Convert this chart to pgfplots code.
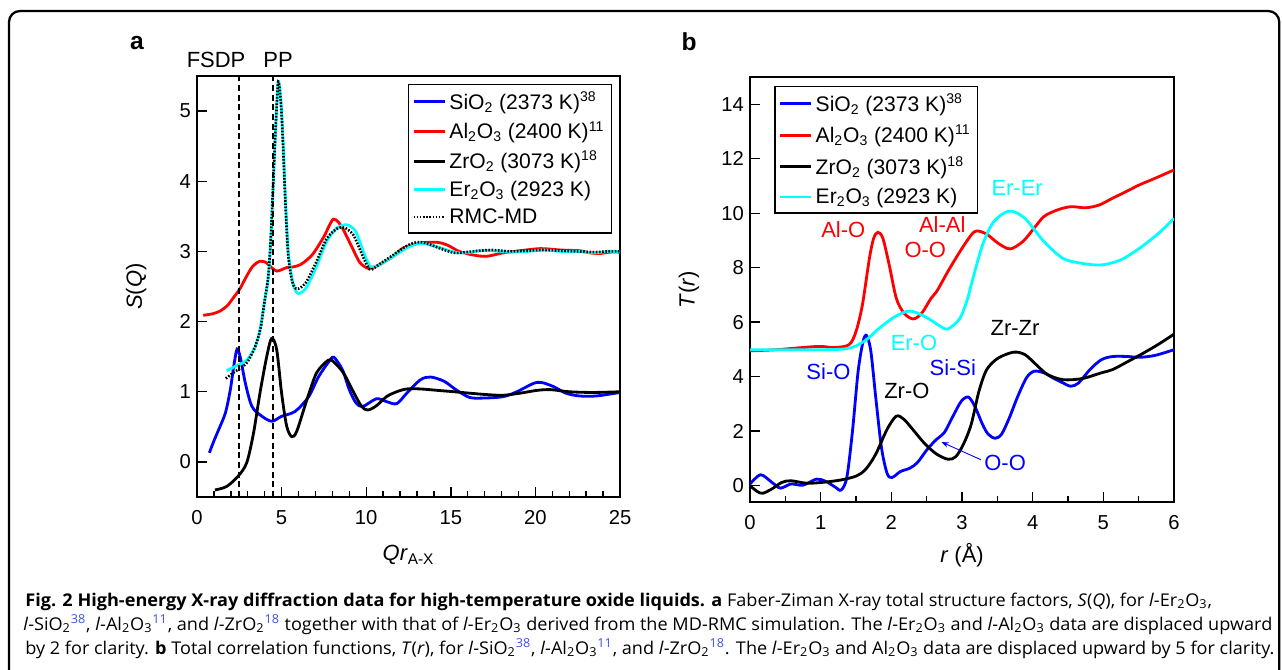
\documentclass[border=0pt]{standalone}
\usepackage{fontspec}
\setmainfont{Liberation Sans}
\newfontfamily\capfont{Open Sans}[FakeStretch=1.03]
\usepackage{pgfplots}
\pgfplotsset{compat=1.18}
\usetikzlibrary{arrows.meta}

\definecolor{pblue}{RGB}{0,0,255}
\definecolor{pred}{RGB}{255,0,0}
\definecolor{pcyan}{RGB}{0,255,255}
\definecolor{refblue}{RGB}{60,80,230}

\newcommand{\lsub}[1]{\textsubscript{#1}}
\newcommand{\lsup}[1]{\textsuperscript{#1}}
\newcommand{\rf}[1]{\textsuperscript{\color{refblue}#1}}

\pgfplotsset{
  panel/.style={
    scale only axis,
    axis line style={line width=0.8pt},
    tick align=inside,
    tick pos=left,
    major tick length=0.2cm,
    minor tick length=0.12cm,
    every tick/.style={black, line width=0.8pt},
    tick label style={font=\fontsize{11.5}{13}\selectfont},
    xticklabel style={yshift=-0.14cm},
    /pgf/number format/assume math mode=true,
    label style={font=\fontsize{12.5}{14}\selectfont},
    legend style={draw=black, line width=0.8pt, font=\fontsize{12}{14}\selectfont,
      cells={anchor=west}, inner sep=2pt, row sep=1.5pt},
    legend image code/.code={\draw[##1] (0cm,0cm) -- (0.62cm,0cm);},
    every axis plot/.append style={line width=1.6pt, smooth},
  }
}

\begin{document}
\begin{tikzpicture}
\path[use as bounding box] (0,0) rectangle (25.64cm,-13.4cm);

% ---- panel a ----
\begin{axis}[panel,
  at={(3.94cm,-9.94cm)}, anchor=south west,
  width=8.46cm, height=8.42cm,
  xmin=0, xmax=25, ymin=-0.5, ymax=5.5,
  xtick={0,5,...,25}, minor xtick={0,1,...,25},
  ytick={0,1,...,5},
  xlabel={\textit{Qr}\textsubscript{A-X}},
  ylabel={\textit{S}(\textit{Q})},
  xlabel style={at={(axis description cs:0.5,-0.138)}, anchor=center},
  ylabel style={at={(axis description cs:-0.144,0.5)}, anchor=center},
  legend style={at={(0.981,0.981)}, anchor=north east},
]
\addplot[pblue] coordinates {
(0.73,0.13)(1.0,0.3)(1.28,0.46)(1.68,0.70)(1.97,1.03)(2.17,1.36)(2.37,1.61)(2.57,1.48)
(2.86,1.12)(3.25,0.79)(3.84,0.65)(4.43,0.58)(5.0,0.65)(5.8,0.72)(6.6,0.93)(7.2,1.22)
(7.86,1.45)(8.1,1.49)(8.6,1.31)(9.0,1.03)(9.4,0.84)(9.8,0.79)(10.6,0.90)(11.2,0.86)
(11.8,0.83)(12.4,0.98)(13.2,1.17)(13.8,1.21)(14.6,1.15)(15.3,1.03)(16.1,0.92)(16.9,0.91)
(18.1,0.93)(18.9,1.00)(19.9,1.12)(20.4,1.13)(21.1,1.07)(21.8,0.98)(22.6,0.94)(23.6,0.94)(25,0.99)};
\addlegendentry{SiO\lsub{2} (2373 K)\lsup{38}}
\addplot[pred] coordinates {
(0.37,2.09)(0.9,2.11)(1.36,2.15)(1.8,2.23)(2.15,2.34)(2.54,2.47)(2.94,2.65)(3.3,2.79)
(3.72,2.86)(4.1,2.84)(4.4,2.77)(4.7,2.72)(5.0,2.74)(5.3,2.77)(5.7,2.78)(6.1,2.81)
(6.5,2.88)(6.9,2.98)(7.5,3.21)(7.8,3.36)(8.06,3.46)(8.35,3.42)(8.65,3.31)(9.24,3.02)
(9.63,2.84)(10.1,2.76)(10.5,2.78)(11.0,2.84)(11.6,2.93)(12.2,3.05)(13.2,3.12)(14.2,3.13)
(14.8,3.09)(15.5,3.0)(16.3,2.95)(17.1,2.93)(18.1,2.98)(19.1,3.01)(20.3,3.04)(21.5,3.02)
(22.6,3.01)(23.2,2.98)(23.8,2.97)(24.4,2.99)(25,2.99)};
\addlegendentry{Al\lsub{2}O\lsub{3} (2400 K)\lsup{11}}
\addplot[black] coordinates {
(1.06,-0.40)(1.75,-0.35)(2.44,-0.2)(2.94,-0.01)(3.34,0.41)(3.72,0.98)(4.12,1.50)(4.41,1.76)
(4.71,1.60)(5.0,0.98)(5.3,0.51)(5.6,0.36)(5.9,0.44)(6.5,0.89)(7.07,1.27)(7.76,1.45)
(8.06,1.43)(8.65,1.27)(9.24,1.0)(9.73,0.79)(10.1,0.74)(10.6,0.80)(11.2,0.93)(11.8,1.0)
(12.4,1.04)(13.2,1.04)(14.2,1.02)(15.2,1.0)(16.1,0.98)(17.1,0.96)(18.1,0.95)(19.1,0.98)
(20.1,1.02)(20.9,1.03)(22.0,1.0)(23.4,0.99)(25,1.0)};
\addlegendentry{ZrO\lsub{2} (3073 K)\lsup{18}}
\addplot[pcyan] coordinates {
(1.75,1.30)(2.25,1.36)(2.94,1.45)(3.43,1.64)(3.72,1.88)(4.0,2.3)(4.2,2.6)(4.35,3.1)
(4.5,3.92)(4.62,4.6)(4.72,5.1)(4.8,5.42)(4.9,5.3)(5.0,5.0)(5.1,4.5)(5.2,3.9)(5.3,3.4)
(5.4,2.98)(5.55,2.7)(5.7,2.52)(5.85,2.43)(6.0,2.40)(6.2,2.42)(6.5,2.50)(7.07,2.79)
(7.66,3.14)(8.25,3.33)(8.85,3.38)(9.34,3.30)(9.6,3.15)(9.83,3.0)(10.1,2.84)(10.3,2.78)
(10.8,2.81)(11.6,2.93)(12.4,3.05)(13.0,3.11)(13.5,3.11)(14.4,3.05)(15.2,2.99)(15.9,2.98)
(16.7,3.01)(17.5,3.01)(18.5,2.99)(19.5,3.0)(20.5,3.02)(21.5,3.0)(22.5,3.0)(23.5,2.98)
(24.3,3.0)(25,3.0)};
\addlegendentry{Er\lsub{2}O\lsub{3} (2923 K)}
\addplot[black, line width=1.5pt, dash pattern=on 0.9pt off 0.9pt] coordinates {
(1.7,1.19)(2.2,1.28)(2.9,1.40)(3.4,1.62)(3.75,1.9)(4.0,2.3)(4.2,2.62)(4.35,3.15)(4.5,3.95)
(4.62,4.62)(4.72,5.12)(4.8,5.42)(4.9,5.28)(5.0,4.95)(5.1,4.42)(5.2,3.82)(5.3,3.3)(5.4,2.92)
(5.55,2.66)(5.7,2.52)(5.85,2.47)(6.0,2.47)(6.2,2.50)(6.5,2.58)(7.07,2.86)(7.66,3.18)
(8.25,3.32)(8.7,3.34)(9.2,3.25)(9.5,3.1)(9.8,2.93)(10.1,2.78)(10.3,2.74)(10.8,2.82)
(11.6,2.95)(12.4,3.08)(13.0,3.13)(13.5,3.12)(14.4,3.04)(15.2,2.98)(15.9,2.99)(16.7,3.01)
(17.5,3.02)(18.5,3.0)(19.5,3.01)(20.5,3.02)(21.5,3.01)(22.5,3.0)(23.5,2.99)(24.3,3.0)(25,3.0)};
\addlegendentry{RMC-MD}
\addplot[forget plot, black, line width=1.1pt, dash pattern=on 3.5pt off 2pt, sharp plot]
  coordinates {(2.5,-0.5)(2.5,5.5)};
\addplot[forget plot, black, line width=1.1pt, dash pattern=on 3.5pt off 2pt, sharp plot]
  coordinates {(4.5,-0.5)(4.5,5.5)};
\end{axis}

% ---- panel b ----
\begin{axis}[panel,
  at={(15.0cm,-10.04cm)}, anchor=south west,
  width=8.48cm, height=8.5cm,
  xmin=0, xmax=6, ymin=-0.6, ymax=15,
  xtick={0,1,...,6}, minor xtick={0,0.5,...,6},
  ytick={0,2,...,14},
  xlabel={\textit{r} (Å)},
  ylabel={\textit{T}(\textit{r})},
  xlabel style={at={(axis description cs:0.5,-0.125)}, anchor=center},
  ylabel style={at={(axis description cs:-0.144,0.5)}, anchor=center},
  legend style={at={(0.057,0.979)}, anchor=north west, row sep=2.5pt},
]
\addplot[pblue] coordinates {
(0,0.06)(0.15,0.40)(0.31,0.12)(0.43,-0.09)(0.58,0.06)(0.75,0.02)(0.94,0.24)(1.07,0.16)
(1.21,-0.06)(1.29,-0.16)(1.37,0.30)(1.45,2.0)(1.53,4.2)(1.6,5.29)(1.65,5.51)(1.71,4.93)
(1.78,3.22)(1.86,1.40)(1.94,0.45)(2.01,0.30)(2.13,0.52)(2.26,0.64)(2.37,0.85)(2.51,1.34)
(2.64,1.70)(2.75,1.95)(2.86,2.49)(2.99,3.10)(3.09,3.25)(3.18,2.92)(3.29,2.25)(3.37,1.89)
(3.47,1.74)(3.56,1.89)(3.67,2.49)(3.78,3.22)(3.91,3.95)(4.02,4.2)(4.16,4.14)(4.29,3.95)
(4.43,3.77)(4.54,3.65)(4.65,3.77)(4.81,4.26)(4.97,4.62)(5.13,4.74)(5.35,4.74)(5.51,4.71)
(5.73,4.78)(6.0,4.99)};
\addlegendentry{SiO\lsub{2} (2373 K)\lsup{38}}
\addplot[pred] coordinates {
(0,4.95)(0.37,4.99)(0.96,5.11)(1.18,5.07)(1.4,5.17)(1.5,5.66)(1.59,6.63)(1.69,8.35)
(1.75,9.08)(1.81,9.3)(1.88,9.08)(1.97,8.1)(2.07,6.88)(2.18,6.33)(2.31,6.12)(2.43,6.33)
(2.56,6.87)(2.64,7.12)(2.8,7.86)(2.97,8.59)(3.13,9.2)(3.21,9.35)(3.35,9.23)(3.51,8.9)
(3.68,8.69)(3.86,8.96)(4.02,9.45)(4.16,9.88)(4.35,10.12)(4.54,10.24)(4.75,10.2)(4.94,10.3)
(5.13,10.55)(5.32,10.79)(5.51,11.04)(5.73,11.28)(6.0,11.59)};
\addlegendentry{Al\lsub{2}O\lsub{3} (2400 K)\lsup{11}}
\addplot[black] coordinates {
(0,0)(0.1,-0.21)(0.18,-0.28)(0.31,-0.12)(0.45,0.12)(0.58,0.18)(0.8,0.09)(1.02,0.12)
(1.29,0.21)(1.51,0.36)(1.64,0.61)(1.78,1.16)(1.94,2.07)(2.07,2.55)(2.18,2.43)(2.32,2.01)
(2.48,1.52)(2.64,1.16)(2.80,0.97)(2.91,1.06)(3.02,1.52)(3.13,2.25)(3.24,3.47)(3.35,4.26)
(3.51,4.68)(3.73,4.90)(3.89,4.81)(4.05,4.44)(4.21,4.08)(4.43,3.89)(4.7,3.93)(4.97,4.14)
(5.13,4.26)(5.35,4.56)(5.57,4.87)(5.78,5.19)(6.0,5.56)};
\addlegendentry{ZrO\lsub{2} (3073 K)\lsup{18}}
\addplot[pcyan] coordinates {
(0,4.99)(0.64,4.99)(1.34,5.02)(1.61,5.29)(1.83,5.78)(2.05,6.2)(2.26,6.41)(2.48,6.2)
(2.7,5.84)(2.8,5.75)(2.97,6.14)(3.08,6.87)(3.13,7.37)(3.29,8.83)(3.45,9.69)(3.67,10.08)
(3.89,9.81)(4.16,8.96)(4.43,8.34)(4.7,8.16)(4.97,8.1)(5.24,8.28)(5.51,8.71)(5.78,9.26)(6.0,9.81)};
\addlegendentry{Er\lsub{2}O\lsub{3} (2923 K)}

\begin{scope}[font=\fontsize{12.5}{14}\selectfont]
\node[pred] at (axis cs:1.32,9.39) {Al-O};
\node[pred] at (axis cs:2.72,9.6) {Al-Al};
\node[pred] at (axis cs:2.48,8.65) {O-O};
\node[pcyan] at (axis cs:3.78,10.93) {Er-Er};
\node[pcyan] at (axis cs:2.32,5.24) {Er-O};
\node[pblue] at (axis cs:1.11,4.17) {Si-O};
\node[pblue] at (axis cs:2.87,4.32) {Si-Si};
\node[black] at (axis cs:3.75,5.79) {Zr-Zr};
\node[black] at (axis cs:2.22,3.48) {Zr-O};
\node[pblue] at (axis cs:3.61,0.83) {O-O};
\end{scope}
\draw[pblue, line width=0.5pt, -{Stealth[length=4pt,width=3pt]}]
  (axis cs:3.27,0.95) -- (axis cs:2.71,1.6);
\end{axis}

% ---- frame, panel letters, caption ----
\begin{scope}[x=0.02cm, y=-0.02cm]
\draw[line width=1.3pt, rounded corners=0.22cm] (9,11) rectangle (1279,720);
\node[font=\fontsize{14}{16}\selectfont\bfseries] at (137,43) {a};
\node[font=\fontsize{14}{16}\selectfont\bfseries] at (689,42) {b};
\node[font=\fontsize{12.5}{14}\selectfont] at (216,60) {FSDP};
\node[font=\fontsize{12.5}{14}\selectfont] at (278,60) {PP};
\begin{scope}[every node/.style={anchor=base west, inner sep=0pt,
    font=\capfont\fontsize{10}{11}\selectfont}]
\node at (25,606) {\textbf{Fig. 2 High-energy X-ray diffraction data for high-temperature oxide liquids. a} Faber-Ziman X-ray total structure factors, \textit{S}(\textit{Q}), for \textit{l}-Er\lsub{2}O\lsub{3},};
\node at (23,630) {\textit{l}-SiO\lsub{2}\rf{38}, \textit{l}-Al\lsub{2}O\lsub{3}\rf{11}, and \textit{l}-ZrO\lsub{2}\rf{18} together with that of \textit{l}-Er\lsub{2}O\lsub{3} derived from the MD-RMC simulation. The \textit{l}-Er\lsub{2}O\lsub{3} and \textit{l}-Al\lsub{2}O\lsub{3} data are displaced upward};
\node at (25,654) {by 2 for clarity. \textbf{b} Total correlation functions, \textit{T}(\textit{r}), for \textit{l}-SiO\lsub{2}\rf{38}, \textit{l}-Al\lsub{2}O\lsub{3}\rf{11}, and \textit{l}-ZrO\lsub{2}\rf{18}. The \textit{l}-Er\lsub{2}O\lsub{3} and Al\lsub{2}O\lsub{3} data are displaced upward by 5 for clarity.};
\end{scope}
\end{scope}
\end{tikzpicture}
\end{document}
